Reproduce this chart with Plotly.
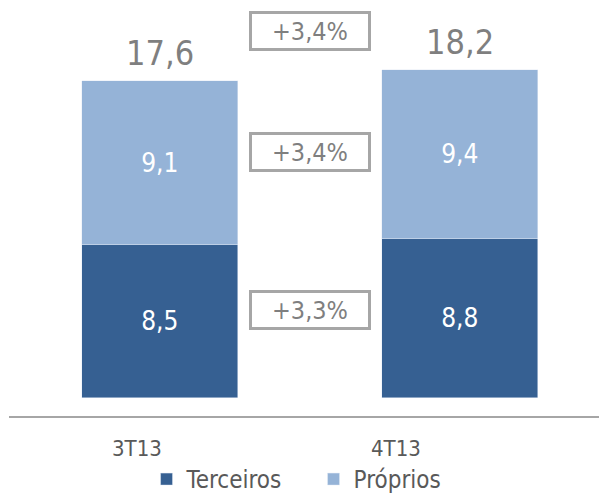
import plotly.graph_objects as go

categories = ["3T13", "4T13"]
terceiros = [8.5, 8.8]
proprios = [9.1, 9.4]
totals = [17.6, 18.2]
growth_labels = ["+3,4%", "+3,4%", "+3,3%"]
growth_levels = [20.37, 13.67, 4.90]

FONT = "DejaVu Sans Condensed"
DARK = "#366092"
LIGHT = "#95b3d7"
GRAY = "#7f7f7f"

fig = go.Figure()
fig.add_trace(go.Bar(
    x=categories, y=terceiros, name="Terceiros", marker_color=DARK,
    width=0.52, text=[f"{v:.1f}".replace(".", ",") for v in terceiros],
    textposition="inside", insidetextanchor="middle",
    textfont=dict(family=FONT, size=26, color="white"),
))
fig.add_trace(go.Bar(
    x=categories, y=proprios, name="Próprios", marker_color=LIGHT,
    width=0.52, text=[f"{v:.1f}".replace(".", ",") for v in proprios],
    textposition="inside", insidetextanchor="middle",
    textfont=dict(family=FONT, size=26, color="white"),
))

annotations = []
for c, t in zip(categories, totals):
    annotations.append(dict(
        x=c, y=t, xref="x", yref="y", text=f"{t:.1f}".replace(".", ","),
        showarrow=False, yanchor="bottom", yshift=6,
        font=dict(family=FONT, size=34, color=GRAY),
    ))
for lab, lev in zip(growth_labels, growth_levels):
    annotations.append(dict(
        x=0.5, y=lev, xref="x", yref="y", text=lab, showarrow=False,
        xanchor="center", yanchor="middle",
        width=112, height=30, borderpad=2, borderwidth=3,
        bordercolor="#a6a6a6", bgcolor="white",
        font=dict(family=FONT, size=25, color=GRAY),
    ))
for c, xs in zip(categories, [-23, -64]):
    annotations.append(dict(
        x=c, y=0, xref="x", yref="paper", text=c, showarrow=False,
        yanchor="middle", yshift=-32, xshift=xs,
        font=dict(family=FONT, size=22, color="#595959"),
    ))

fig.update_layout(
    width=607, height=494,
    margin=dict(l=1, r=8, t=0, b=85),
    barmode="stack",
    plot_bgcolor="white", paper_bgcolor="white",
    bargap=0,
    xaxis=dict(range=[-0.503, 1.49], showticklabels=False, showgrid=False,
               zeroline=False, showline=True, linecolor="#a6a6a6", linewidth=2,
               ticks=""),
    yaxis=dict(range=[-0.996, 21.64], visible=False),
    showlegend=True,
    legend=dict(orientation="h", x=0.23, xanchor="left", y=-0.156, yanchor="middle",
                traceorder="normal", entrywidth=122, entrywidthmode="pixels",
                font=dict(family=FONT, size=24, color="#595959")),
    annotations=annotations,
)

fig.write_html("out.html")
